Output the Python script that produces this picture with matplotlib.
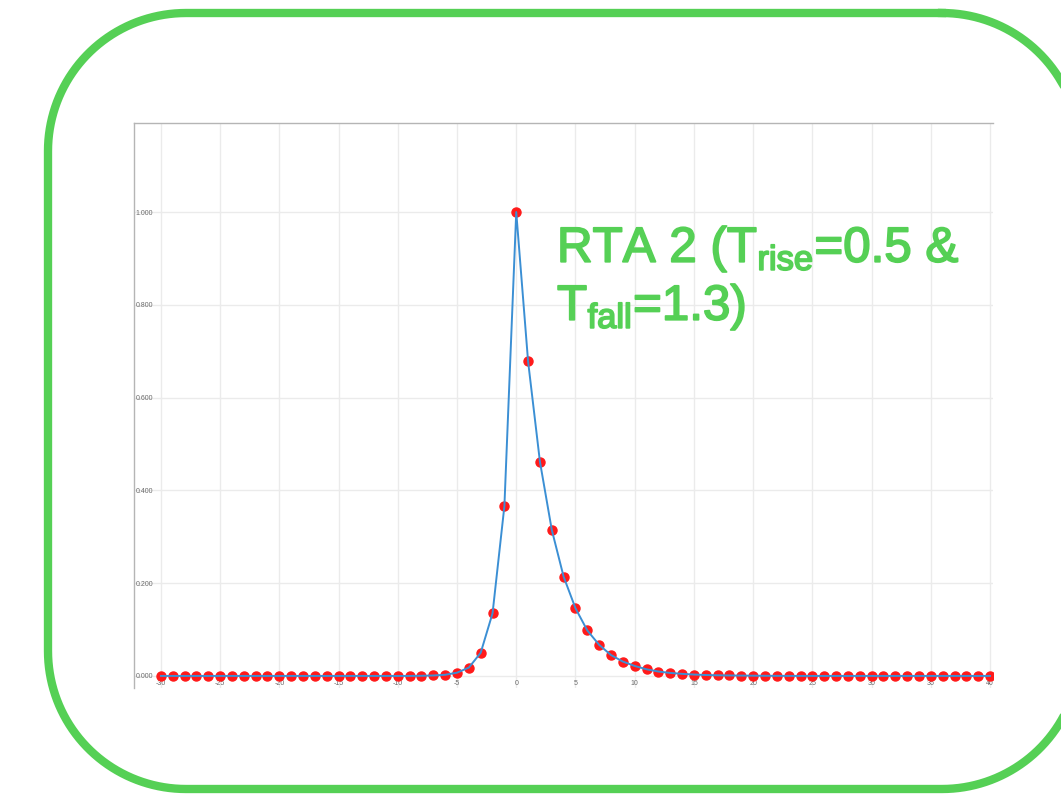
import numpy as np
import matplotlib
matplotlib.use("Agg")
import matplotlib.pyplot as plt
import matplotlib.patheffects as pe

plt.rcParams['font.family'] = ['Liberation Sans', 'DejaVu Sans']
plt.rcParams['mathtext.fontset'] = 'custom'
plt.rcParams['mathtext.rm'] = 'Liberation Sans'

# pulse samples, one per time step from -30 to 40
t = list(range(-30, 41))
rise_vals = [0.0] * 22 + [0.0003, 0.001, 0.0025, 0.007, 0.018, 0.050, 0.135, 0.366]   # t = -30 .. -1
peak_val = [1.0]                                                                      # t = 0
fall_vals = [0.678, 0.462, 0.315, 0.214, 0.146, 0.098, 0.067, 0.045, 0.031, 0.0215,
             0.0144, 0.0095, 0.0065, 0.0045, 0.003, 0.002, 0.0014, 0.001, 0.0007, 0.0005,
             0.0003, 0.0002, 0.0001] + [0.0] * 17                                     # t = 1 .. 40
signal = rise_vals + peak_val + fall_vals

xticks = list(range(-30, 41, 5))
yticks = [0.0, 0.2, 0.4, 0.6, 0.8, 1.0]
ytick_labels = ['0.000', '0.200', '0.400', '0.600', '0.800', '1.000']

green = '#55d055'
W, H = 1061, 795


def rounded_rect(x0, y0, x1, y1, r, n=40):
    # outline of a rounded rectangle as plain line segments (y grows downward)
    corners = [(x1 - r, y0 + r, -90, 0), (x1 - r, y1 - r, 0, 90),
               (x0 + r, y1 - r, 90, 180), (x0 + r, y0 + r, 180, 270)]
    xs, ys = [], []
    for cx, cy, a0, a1 in corners:
        a = np.radians(np.linspace(a0, a1, n))
        xs.extend(cx + r * np.cos(a))
        ys.extend(cy + r * np.sin(a))
    xs.append(xs[0])
    ys.append(ys[0])
    return xs, ys


fig = plt.figure(figsize=(W / 100, H / 100), dpi=100)

# background layer in pixel units for the rounded frame
bg = fig.add_axes([0, 0, 1, 1])
bg.set_xlim(0, W)
bg.set_ylim(H, 0)
bg.axis('off')
fx, fy = rounded_rect(48, 13, 1080, 789, 138)
bg.plot(fx, fy, color=green, linewidth=6, solid_joinstyle='round')

ax = fig.add_axes([134 / W, 1 - 688 / H, (993 - 134) / W, (688 - 123) / H])
ax.plot(t, signal, 'o', color='#ff1a1a', markersize=6.5, zorder=3)
ax.plot(t, signal, '-', color='#3b8fd4', linewidth=1.4, zorder=4)

ax.set_xlim(-32.27, 40.25)
ax.set_ylim(-0.026, 1.192)
ax.set_xticks(xticks)
ax.set_xticklabels([str(v) for v in xticks])
ax.set_yticks(yticks)
ax.set_yticklabels(ytick_labels)
ax.grid(True, color='#ebebeb', linewidth=1)
ax.set_axisbelow(True)
ax.tick_params(axis='both', length=0, labelsize=5, labelcolor='#6a6a6a')
ax.tick_params(axis='x', pad=-6)
ax.tick_params(axis='y', pad=-14)
for side in ['right', 'bottom']:
    ax.spines[side].set_visible(False)
for side in ['left', 'top']:
    ax.spines[side].set_color('#b5b5b5')
    ax.spines[side].set_linewidth(1)

label_style = dict(color=green, fontsize=35.5, va='baseline', ha='left',
                   path_effects=[pe.withStroke(linewidth=1.3, foreground=green)])
fig.text(557 / W, 1 - 262 / H, r'RTA 2 (T$_{\mathrm{rise}}$=0.5 &', **label_style)
fig.text(557 / W, 1 - 320 / H, r'T$_{\mathrm{fall}}$=1.3)', **label_style)

fig.savefig('out.png', dpi=100)
